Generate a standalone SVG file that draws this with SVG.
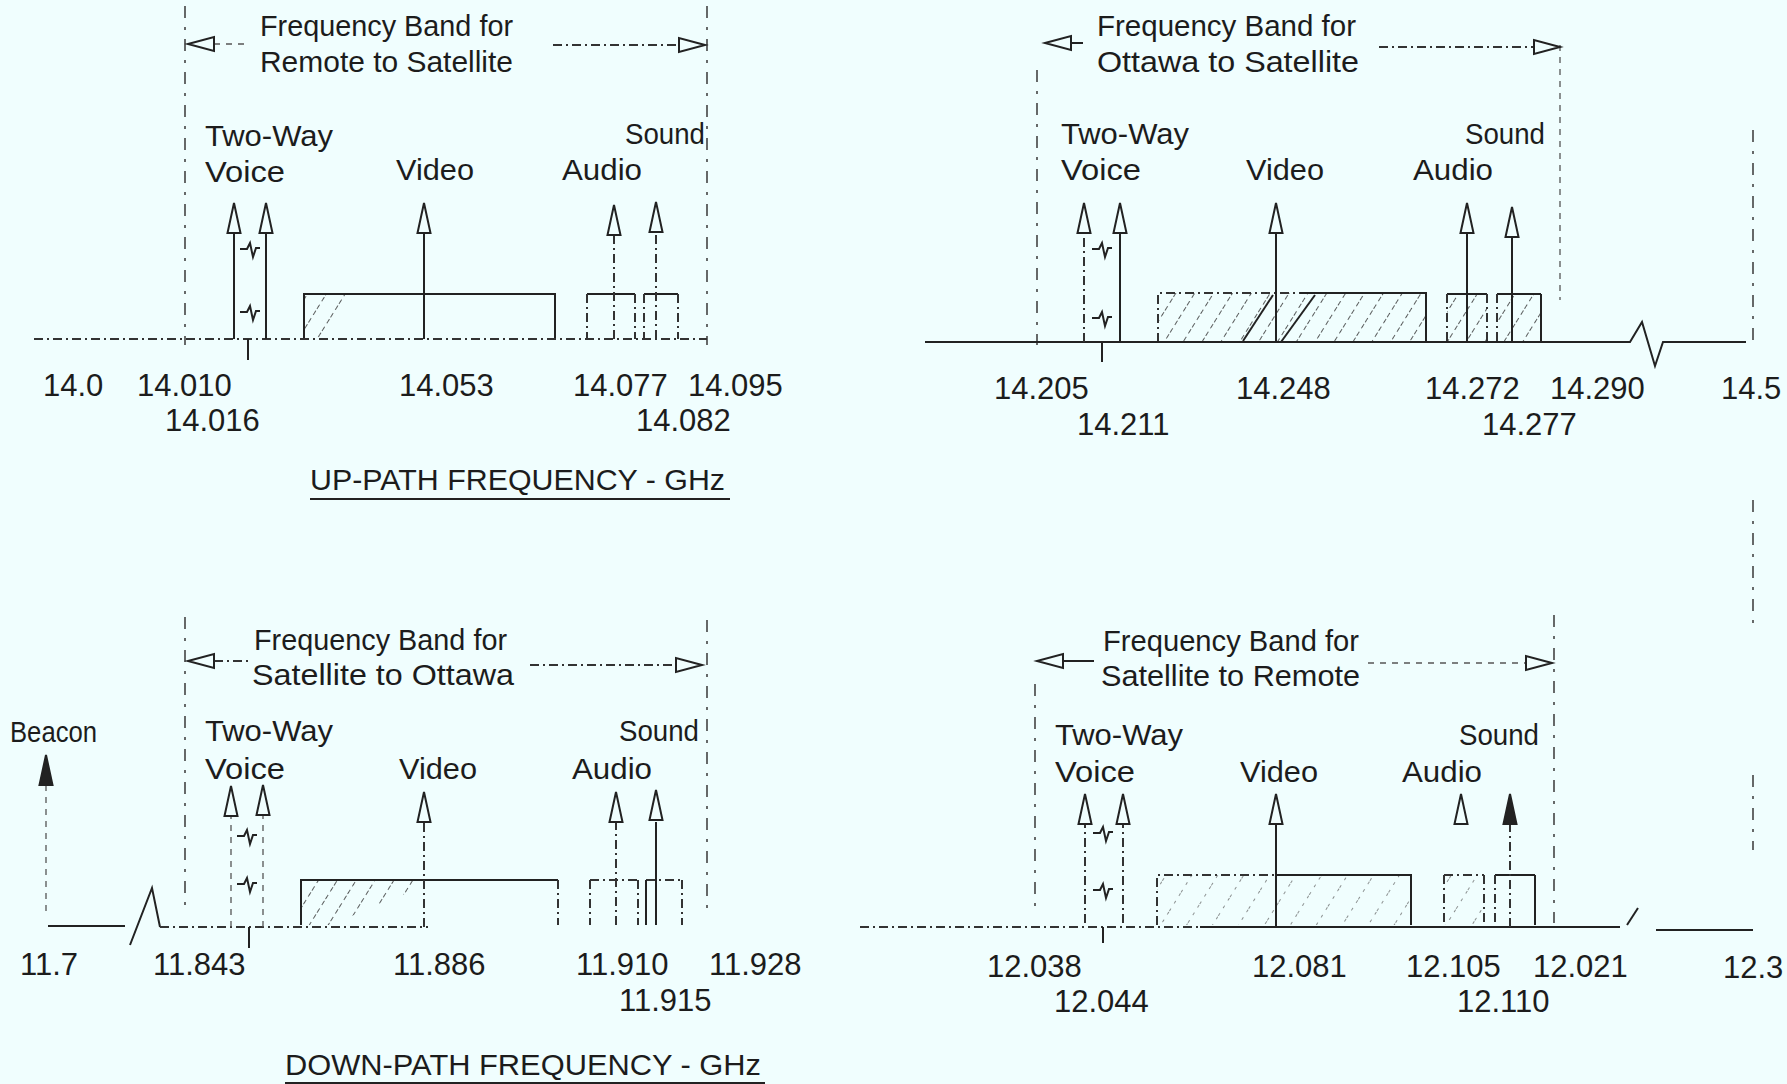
<svg xmlns="http://www.w3.org/2000/svg" xmlns:xlink="http://www.w3.org/1999/xlink" width="1787" height="1084" viewBox="0 0 1787 1084">
<style>
text{font-family:"Liberation Sans","DejaVu Sans",sans-serif;fill:#1c1c1c}
.t{font-size:30px}
.n{font-size:31px}
.ln{stroke:#222;stroke-width:2;fill:none}
.dl{stroke:#333;stroke-width:2;fill:none;stroke-dasharray:9 4 2 4}
.bd{stroke:#444;stroke-width:1.6;fill:none;stroke-dasharray:12 9 3 9}
.fd{stroke:#555;stroke-width:1.3;fill:none;stroke-dasharray:6 6}
.sq{stroke:#222;stroke-width:2;fill:none}
</style>
<defs>
<path id="ah" d="M0,0 L6.5,30 L-6.5,30 Z" fill="#f0fefe" stroke="#222" stroke-width="2"/>
<path id="ahf" d="M0,0 L6.5,30 L-6.5,30 Z" fill="#222" stroke="#222" stroke-width="2"/>
<path id="ahl" d="M0,0 L26,-7 L26,7 Z" fill="#f0fefe" stroke="#222" stroke-width="2"/>
<path id="ahr" d="M0,0 L-26,-7 L-26,7 Z" fill="#f0fefe" stroke="#222" stroke-width="2"/>
<path id="sq" d="M-10,1 L-3,1 L0,-5 L3,9 L6,0 L10,0"/>
<pattern id="hatch" patternUnits="userSpaceOnUse" width="16" height="16" patternTransform="rotate(32)">
<line x1="0" y1="0" x2="0" y2="16" stroke="#333" stroke-width="1.6" stroke-dasharray="5 4"/>
</pattern>
<pattern id="hatchf" patternUnits="userSpaceOnUse" width="22" height="22" patternTransform="rotate(32)">
<line x1="0" y1="0" x2="0" y2="22" stroke="#555" stroke-width="1.3" stroke-dasharray="3 6"/>
</pattern>
</defs>
<rect width="1787" height="1084" fill="#f0fefe"/>

<!-- ================= TOP LEFT: Remote to Satellite ================= -->
<g id="tl-title">
<text class="t" x="260" y="36" textLength="253" lengthAdjust="spacingAndGlyphs">Frequency Band for</text>
<text class="t" x="260" y="72" textLength="253" lengthAdjust="spacingAndGlyphs">Remote to Satellite</text>
</g>
<g id="tl-bounds">
<line class="bd" x1="185" y1="6" x2="185" y2="345"/>
<line class="bd" x1="707" y1="6" x2="707" y2="345"/>
</g>
<g id="tl-labels">
<text class="t" x="205" y="146" textLength="128" lengthAdjust="spacingAndGlyphs">Two-Way</text>
<text class="t" x="205" y="182" textLength="80" lengthAdjust="spacingAndGlyphs">Voice</text>
<text class="t" x="396" y="180" textLength="78" lengthAdjust="spacingAndGlyphs">Video</text>
<text class="t" x="562" y="180" textLength="80" lengthAdjust="spacingAndGlyphs">Audio</text>
<text class="t" x="625" y="144" textLength="80" lengthAdjust="spacingAndGlyphs">Sound</text>
</g>
<g id="tl-video-band">
<polygon points="304,294 362,294 318,339 304,339" fill="url(#hatch)"/>
<polyline class="ln" points="304,339 304,294 555,294 555,339"/>
</g>
<g id="tl-audio-band">
<line class="ln" x1="587" y1="294" x2="635" y2="294"/>
<line class="dl" x1="587" y1="294" x2="587" y2="339"/>
<line class="dl" x1="635" y1="294" x2="635" y2="339"/>
<line class="ln" x1="644" y1="294" x2="678" y2="294"/>
<line class="dl" x1="644" y1="294" x2="644" y2="339"/>
<line class="dl" x1="678" y1="294" x2="678" y2="339"/>
</g>
<g id="tl-axis">
<line class="dl" x1="34" y1="339" x2="707" y2="339"/>
<line class="ln" x1="248" y1="339" x2="248" y2="360"/>
<use xlink:href="#sq" class="sq" x="250" y="248"/>
<use xlink:href="#sq" class="sq" x="250" y="311"/>
</g>
<g id="tl-numbers">
<text class="n" x="43" y="396">14.0</text>
<text class="n" x="137" y="396">14.010</text>
<text class="n" x="399" y="396">14.053</text>
<text class="n" x="573" y="396">14.077</text>
<text class="n" x="688" y="396">14.095</text>
<text class="n" x="165" y="431">14.016</text>
<text class="n" x="636" y="431">14.082</text>
</g>
<g id="tl-caption">
<text class="t" x="310" y="490" textLength="415" lengthAdjust="spacingAndGlyphs">UP-PATH FREQUENCY - GHz</text>
<line class="ln" x1="310" y1="499" x2="730" y2="499" stroke-width="2.5"/>
</g>

<!-- ================= TOP RIGHT: Ottawa to Satellite ================= -->
<g id="tr-title">
<text class="t" x="1097" y="36" textLength="259" lengthAdjust="spacingAndGlyphs">Frequency Band for</text>
<text class="t" x="1097" y="72" textLength="262" lengthAdjust="spacingAndGlyphs">Ottawa to Satellite</text>
</g>
<g id="tr-bounds">
<line class="bd" x1="1037" y1="70" x2="1037" y2="345"/>
<line class="fd" x1="1560" y1="45" x2="1560" y2="300"/>
<line class="bd" x1="1753" y1="130" x2="1753" y2="348"/>
<line class="bd" x1="1753" y1="500" x2="1753" y2="628"/>
<line class="bd" x1="1753" y1="775" x2="1753" y2="850"/>
</g>
<g id="tr-labels">
<text class="t" x="1061" y="144" textLength="128" lengthAdjust="spacingAndGlyphs">Two-Way</text>
<text class="t" x="1061" y="180" textLength="80" lengthAdjust="spacingAndGlyphs">Voice</text>
<text class="t" x="1246" y="180" textLength="78" lengthAdjust="spacingAndGlyphs">Video</text>
<text class="t" x="1413" y="180" textLength="80" lengthAdjust="spacingAndGlyphs">Audio</text>
<text class="t" x="1465" y="144" textLength="80" lengthAdjust="spacingAndGlyphs">Sound</text>
</g>
<g id="tr-video-band">
<rect x="1158" y="293" width="268" height="49" fill="url(#hatch)"/>
<line class="ln" x1="1243" y1="341" x2="1273" y2="295"/>
<line class="ln" x1="1281" y1="342" x2="1315" y2="295"/>
<polyline class="dl" points="1158,342 1158,293 1300,293"/>
<polyline class="ln" points="1300,293 1426,293 1426,342"/>
</g>
<g id="tr-audio-band">
<rect x="1447" y="294" width="40" height="48" fill="url(#hatch)"/>
<rect x="1497" y="294" width="44" height="48" fill="url(#hatch)"/>
<line class="ln" x1="1447" y1="294" x2="1487" y2="294"/>
<line class="dl" x1="1447" y1="294" x2="1447" y2="342"/>
<line class="dl" x1="1487" y1="294" x2="1487" y2="342"/>
<line class="ln" x1="1497" y1="294" x2="1541" y2="294"/>
<line class="dl" x1="1497" y1="294" x2="1497" y2="342"/>
<line class="ln" x1="1541" y1="294" x2="1541" y2="342"/>
</g>
<g id="tr-axis">
<polyline class="ln" points="925,342 1630,342 1642,322 1655,366 1663,342 1746,342"/>
<line class="ln" x1="1102" y1="342" x2="1102" y2="362"/>
<use xlink:href="#sq" class="sq" x="1102" y="248"/>
<use xlink:href="#sq" class="sq" x="1102" y="317"/>
</g>
<g id="tr-numbers">
<text class="n" x="994" y="399">14.205</text>
<text class="n" x="1236" y="399">14.248</text>
<text class="n" x="1425" y="399">14.272</text>
<text class="n" x="1550" y="399">14.290</text>
<text class="n" x="1721" y="399">14.5</text>
<text class="n" x="1077" y="435">14.211</text>
<text class="n" x="1482" y="435">14.277</text>
</g>

<!-- ================= BOTTOM LEFT: Satellite to Ottawa ================= -->
<g id="bl-title">
<text class="t" x="254" y="650" textLength="253" lengthAdjust="spacingAndGlyphs">Frequency Band for</text>
<text class="t" x="252" y="685" textLength="262" lengthAdjust="spacingAndGlyphs">Satellite to Ottawa</text>
</g>
<g id="bl-bounds">
<line class="bd" x1="185" y1="617" x2="185" y2="912"/>
<line class="bd" x1="707" y1="620" x2="707" y2="912"/>
</g>
<g id="bl-labels">
<text class="t" x="10" y="742" textLength="87" lengthAdjust="spacingAndGlyphs">Beacon</text>
<text class="t" x="205" y="741" textLength="128" lengthAdjust="spacingAndGlyphs">Two-Way</text>
<text class="t" x="205" y="779" textLength="80" lengthAdjust="spacingAndGlyphs">Voice</text>
<text class="t" x="399" y="779" textLength="78" lengthAdjust="spacingAndGlyphs">Video</text>
<text class="t" x="572" y="779" textLength="80" lengthAdjust="spacingAndGlyphs">Audio</text>
<text class="t" x="619" y="741" textLength="80" lengthAdjust="spacingAndGlyphs">Sound</text>
</g>
<g id="bl-video-band">
<polygon points="301,880 424,880 424,886 330,925 301,925" fill="url(#hatch)"/>
<polyline class="ln" points="301,925 301,880 558,880"/>
<line class="dl" x1="558" y1="880" x2="558" y2="925"/>
</g>
<g id="bl-audio-band">
<line class="dl" x1="590" y1="880" x2="638" y2="880"/>
<line class="dl" x1="590" y1="880" x2="590" y2="925"/>
<line class="dl" x1="638" y1="880" x2="638" y2="925"/>
<line class="dl" x1="646" y1="880" x2="682" y2="880"/>
<line class="ln" x1="646" y1="880" x2="646" y2="925"/>
<line class="dl" x1="682" y1="880" x2="682" y2="925"/>
</g>
<g id="bl-axis">
<line class="ln" x1="48" y1="926" x2="125" y2="926"/>
<polyline class="ln" points="130,945 152,888 160,927"/>
<line class="dl" x1="160" y1="927" x2="428" y2="927"/>
<line class="ln" x1="249" y1="927" x2="249" y2="948"/>
<use xlink:href="#sq" class="sq" x="247" y="835"/>
<use xlink:href="#sq" class="sq" x="247" y="883"/>
</g>
<g id="bl-numbers">
<text class="n" x="20" y="975">11.7</text>
<text class="n" x="153" y="975">11.843</text>
<text class="n" x="393" y="975">11.886</text>
<text class="n" x="576" y="975">11.910</text>
<text class="n" x="709" y="975">11.928</text>
<text class="n" x="619" y="1011">11.915</text>
</g>
<g id="bl-caption">
<text class="t" x="285" y="1075" textLength="476" lengthAdjust="spacingAndGlyphs">DOWN-PATH FREQUENCY - GHz</text>
<line class="ln" x1="285" y1="1083" x2="765" y2="1083" stroke-width="2.5"/>
</g>

<!-- ================= BOTTOM RIGHT: Satellite to Remote ================= -->
<g id="br-title">
<text class="t" x="1103" y="651" textLength="256" lengthAdjust="spacingAndGlyphs">Frequency Band for</text>
<text class="t" x="1101" y="686" textLength="259" lengthAdjust="spacingAndGlyphs">Satellite to Remote</text>
</g>
<g id="br-bounds">
<line class="bd" x1="1035" y1="684" x2="1035" y2="912"/>
<line class="bd" x1="1554" y1="615" x2="1554" y2="923"/>
</g>
<g id="br-labels">
<text class="t" x="1055" y="745" textLength="128" lengthAdjust="spacingAndGlyphs">Two-Way</text>
<text class="t" x="1055" y="782" textLength="80" lengthAdjust="spacingAndGlyphs">Voice</text>
<text class="t" x="1240" y="782" textLength="78" lengthAdjust="spacingAndGlyphs">Video</text>
<text class="t" x="1402" y="782" textLength="80" lengthAdjust="spacingAndGlyphs">Audio</text>
<text class="t" x="1459" y="745" textLength="80" lengthAdjust="spacingAndGlyphs">Sound</text>
</g>
<g id="br-video-band">
<rect x="1157" y="875" width="254" height="50" fill="url(#hatchf)"/>
<polyline class="dl" points="1157,925 1157,875 1276,875"/>
<polyline class="ln" points="1276,875 1411,875 1411,925"/>
</g>
<g id="br-audio-band">
<rect x="1444" y="875" width="40" height="50" fill="url(#hatchf)"/>
<line class="dl" x1="1444" y1="875" x2="1484" y2="875"/>
<line class="dl" x1="1444" y1="875" x2="1444" y2="925"/>
<line class="dl" x1="1484" y1="875" x2="1484" y2="925"/>
<line class="ln" x1="1495" y1="875" x2="1535" y2="875"/>
<line class="dl" x1="1495" y1="875" x2="1495" y2="925"/>
<line class="ln" x1="1535" y1="875" x2="1535" y2="925"/>
</g>
<g id="br-axis">
<line class="dl" x1="860" y1="927" x2="1200" y2="927"/>
<line class="ln" x1="1200" y1="927" x2="1620" y2="927"/>
<line class="ln" x1="1627" y1="925" x2="1638" y2="908"/>
<line class="ln" x1="1656" y1="930" x2="1753" y2="930"/>
<line class="ln" x1="1103" y1="927" x2="1103" y2="943"/>
<use xlink:href="#sq" class="sq" x="1103" y="832"/>
<use xlink:href="#sq" class="sq" x="1103" y="889"/>
</g>
<g id="br-numbers">
<text class="n" x="987" y="977">12.038</text>
<text class="n" x="1252" y="977">12.081</text>
<text class="n" x="1406" y="977">12.105</text>
<text class="n" x="1533" y="977">12.021</text>
<text class="n" x="1723" y="978">12.3</text>
<text class="n" x="1054" y="1012">12.044</text>
<text class="n" x="1457" y="1012">12.110</text>
</g>

<!-- ================= CONNECTORS (arrows) ================= -->
<g id="connectors">
<!-- top-left band arrows -->
<line class="fd" x1="214" y1="44" x2="245" y2="44"/>
<use xlink:href="#ahl" x="188" y="44"/>
<line class="dl" x1="553" y1="45" x2="680" y2="45"/>
<use xlink:href="#ahr" x="705" y="45"/>
<!-- top-left carriers -->
<line class="ln" x1="234" y1="339" x2="234" y2="230"/>
<line class="ln" x1="266" y1="339" x2="266" y2="230"/>
<line class="ln" x1="424" y1="339" x2="424" y2="230"/>
<line class="dl" x1="614" y1="339" x2="614" y2="230"/>
<line class="dl" x1="656" y1="339" x2="656" y2="230"/>
<use xlink:href="#ah" x="234" y="203"/>
<use xlink:href="#ah" x="266" y="203"/>
<use xlink:href="#ah" x="424" y="203"/>
<use xlink:href="#ah" x="614" y="205"/>
<use xlink:href="#ah" x="656" y="202"/>

<!-- top-right band arrows -->
<line class="ln" x1="1071" y1="43" x2="1083" y2="43"/>
<use xlink:href="#ahl" x="1045" y="43"/>
<line class="dl" x1="1379" y1="47" x2="1535" y2="47"/>
<use xlink:href="#ahr" x="1560" y="47"/>
<!-- top-right carriers -->
<line class="dl" x1="1084" y1="342" x2="1084" y2="230"/>
<line class="ln" x1="1120" y1="342" x2="1120" y2="230"/>
<line class="ln" x1="1276" y1="342" x2="1276" y2="230"/>
<line class="ln" x1="1467" y1="342" x2="1467" y2="232"/>
<line class="ln" x1="1512" y1="342" x2="1512" y2="235"/>
<use xlink:href="#ah" x="1084" y="203"/>
<use xlink:href="#ah" x="1120" y="203"/>
<use xlink:href="#ah" x="1276" y="203"/>
<use xlink:href="#ah" x="1467" y="203"/>
<use xlink:href="#ah" x="1512" y="207"/>

<!-- bottom-left band arrows -->
<line class="dl" x1="214" y1="661" x2="250" y2="661"/>
<use xlink:href="#ahl" x="188" y="661"/>
<line class="dl" x1="530" y1="665" x2="677" y2="665"/>
<use xlink:href="#ahr" x="702" y="665"/>
<!-- bottom-left carriers -->
<line class="fd" x1="46" y1="785" x2="46" y2="912"/>
<use xlink:href="#ahf" x="46" y="755"/>
<line class="fd" x1="231" y1="927" x2="231" y2="815"/>
<line class="fd" x1="263" y1="927" x2="263" y2="815"/>
<line class="dl" x1="424" y1="927" x2="424" y2="822"/>
<line class="dl" x1="616" y1="925" x2="616" y2="822"/>
<line class="ln" x1="656" y1="925" x2="656" y2="822"/>
<use xlink:href="#ah" x="231" y="786"/>
<use xlink:href="#ah" x="263" y="785"/>
<use xlink:href="#ah" x="424" y="792"/>
<use xlink:href="#ah" x="616" y="792"/>
<use xlink:href="#ah" x="656" y="790"/>

<!-- bottom-right band arrows -->
<line class="ln" x1="1063" y1="661" x2="1094" y2="661"/>
<use xlink:href="#ahl" x="1037" y="661"/>
<line class="fd" x1="1368" y1="663" x2="1527" y2="663"/>
<use xlink:href="#ahr" x="1552" y="663"/>
<!-- bottom-right carriers -->
<line class="dl" x1="1085" y1="923" x2="1085" y2="824"/>
<line class="dl" x1="1123" y1="923" x2="1123" y2="824"/>
<line class="ln" x1="1276" y1="927" x2="1276" y2="824"/>
<line class="dl" x1="1510" y1="927" x2="1510" y2="824"/>
<use xlink:href="#ah" x="1085" y="794"/>
<use xlink:href="#ah" x="1123" y="794"/>
<use xlink:href="#ah" x="1276" y="794"/>
<use xlink:href="#ah" x="1461" y="794"/>
<use xlink:href="#ahf" x="1510" y="794"/>
</g>
</svg>
